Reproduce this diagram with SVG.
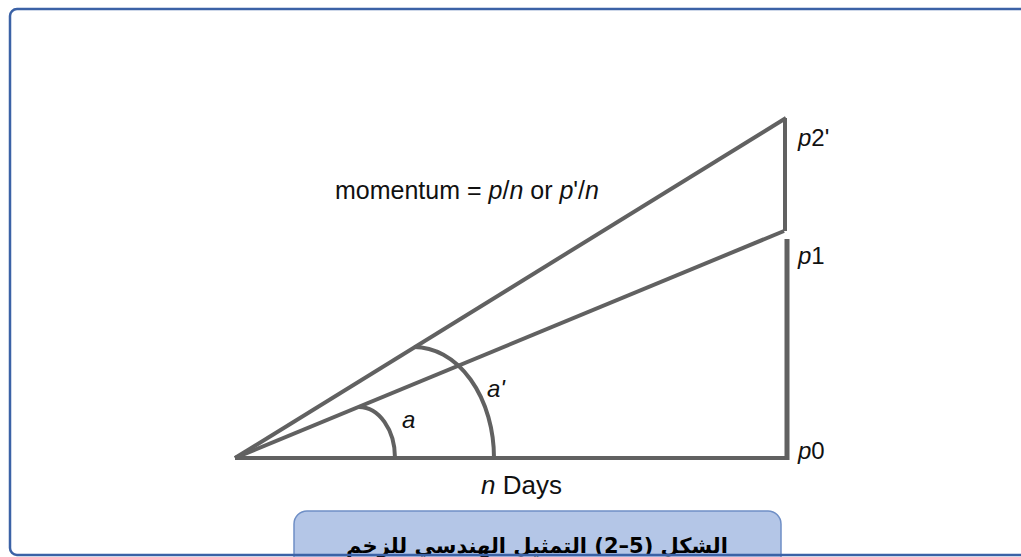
<svg xmlns="http://www.w3.org/2000/svg" width="1021" height="557" viewBox="0 0 1021 557">
<style>
.ln{stroke:#616161;fill:none;stroke-linecap:butt}
.lbl{font-family:"Liberation Sans",Arial,sans-serif;font-size:24px;fill:#111}
.it{font-style:italic}
.cap{font-family:"DejaVu Sans","Noto Sans",sans-serif;font-size:21px;font-weight:bold;fill:#000}
</style>
<rect x="0" y="0" width="1021" height="557" fill="#ffffff"/>
<g id="caption">
<rect x="294" y="511" width="487" height="80" rx="13" fill="#b4c6e7" stroke="#6f8fc6" stroke-width="1.5"/>
<text class="cap" x="537" y="553" text-anchor="middle" direction="rtl">الشكل (5–2) التمثيل الهندسي للزخم</text>
</g>
<g id="frame">
<rect x="10" y="9" width="1040" height="546" rx="7" fill="none" stroke="#3b62a6" stroke-width="2.5"/>
</g>
<g id="connectors">
<line class="ln" x1="235" y1="458" x2="787" y2="458" stroke-width="4"/>
<line class="ln" x1="787" y1="239" x2="787" y2="460" stroke-width="5"/>
<line class="ln" x1="785" y1="118" x2="785" y2="231" stroke-width="4"/>
<line class="ln" x1="235" y1="458" x2="786" y2="118" stroke-width="4"/>
<line class="ln" x1="235" y1="458" x2="784" y2="231" stroke-width="4" stroke="#6e6e6e"/>
<path class="ln" d="M359 407 A36 51 0 0 1 395 458" stroke-width="4"/>
<path class="ln" d="M414 347 A80 111 0 0 1 494 458" stroke-width="4"/>
</g>
<g id="labels">
<text class="lbl" x="335" y="199" style="font-size:25px">momentum = <tspan class="it">p</tspan>/<tspan class="it">n</tspan> or <tspan class="it">p</tspan>'/<tspan class="it">n</tspan></text>
<text class="lbl" x="798" y="146"><tspan class="it">p</tspan>2'</text>
<text class="lbl" x="798" y="264"><tspan class="it">p</tspan>1</text>
<text class="lbl" x="798" y="459"><tspan class="it">p</tspan>0</text>
<text class="lbl it" x="402" y="428">a</text>
<text class="lbl it" x="487" y="397">a'</text>
<text class="lbl" x="481" y="494" style="font-size:26px"><tspan class="it">n</tspan> Days</text>
</g>
</svg>
